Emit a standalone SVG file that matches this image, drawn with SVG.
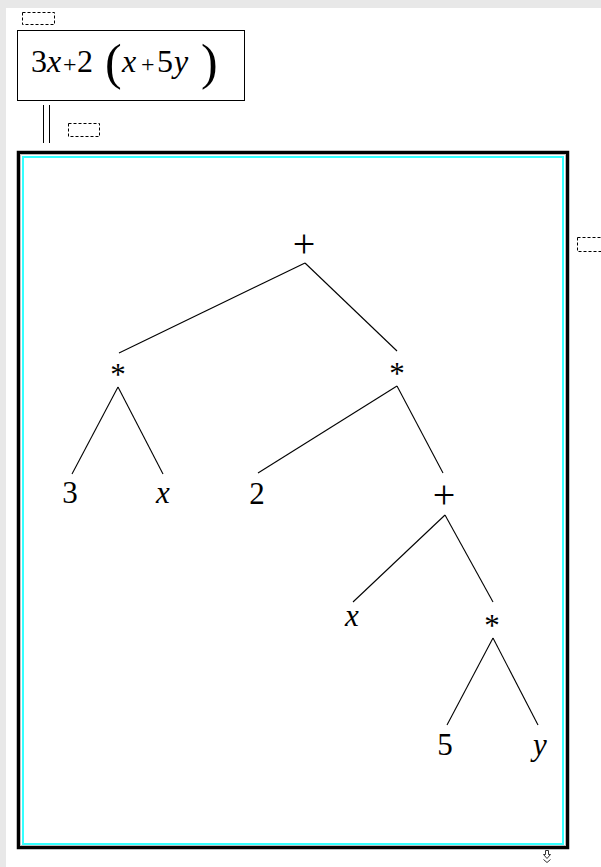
<svg xmlns="http://www.w3.org/2000/svg" width="601" height="867" viewBox="0 0 601 867">
<style>
text{font-family:'Liberation Serif','Times New Roman',serif;fill:#000}
.i{font-style:italic}
.n{font-size:31px;text-anchor:middle}
.op{font-size:40px;text-anchor:middle}
.dash{fill:none;stroke:#000;stroke-width:1;stroke-dasharray:3 2}
.edge{stroke:#000;stroke-width:1.1;fill:none}
</style>
<rect x="0" y="0" width="601" height="867" fill="#e8e8e8"/>
<rect x="6" y="8" width="595" height="859" fill="#fff"/>
<g id="anchor1"><rect class="dash" x="22.5" y="12.5" width="32" height="12"/></g>
<g id="formula">
<rect x="17.5" y="30.5" width="227" height="70" fill="#fff" stroke="#000" stroke-width="1"/>
<text font-size="32" x="31" y="72">3</text>
<text class="i" font-size="32" x="47" y="72">x</text>
<text font-size="24" x="63" y="72">+</text>
<text font-size="32" x="77" y="72">2</text>
<text font-size="50" x="105" y="79">(</text>
<text class="i" font-size="32" x="122" y="72">x</text>
<text font-size="24" x="141" y="72">+</text>
<text font-size="32" x="157" y="72">5</text>
<text class="i" font-size="32" x="174" y="72">y</text>
<text font-size="50" x="201" y="79">)</text>
</g>
<g id="equiv"><line x1="43.5" y1="105" x2="43.5" y2="143" stroke="#000"/><line x1="49.5" y1="105" x2="49.5" y2="143" stroke="#000"/></g>
<g id="anchor2"><rect class="dash" x="68.5" y="123.5" width="31" height="13"/></g>
<g id="anchor3"><rect class="dash" x="577.5" y="237.5" width="30" height="14"/></g>
<g id="frame">
<rect x="18.5" y="152.5" width="549" height="695" fill="#fff" stroke="#000" stroke-width="3.5"/>
<rect x="20.5" y="154.5" width="545" height="691" fill="none" stroke="#bbb" stroke-width="1"/>
<rect x="23" y="157" width="540" height="687" fill="none" stroke="#3ff" stroke-width="2"/>
</g>
<g id="resize"><path d="M545.5 850.5 h3 v4 h2 l-3.5 4 l-3.5 -4 h2 z M543.5 859.5 l3.5 3 l3.5 -3" fill="none" stroke="#333" stroke-width="1"/></g>
<g id="connectors">
<line class="edge" x1="305" y1="263" x2="119" y2="353"/>
<line class="edge" x1="305" y1="263" x2="397" y2="351"/>
<line class="edge" x1="118" y1="387" x2="72" y2="474"/>
<line class="edge" x1="118" y1="387" x2="163" y2="474"/>
<line class="edge" x1="397" y1="386" x2="258" y2="473"/>
<line class="edge" x1="397" y1="386" x2="443" y2="473"/>
<line class="edge" x1="445" y1="515" x2="353" y2="602"/>
<line class="edge" x1="445" y1="515" x2="493" y2="602"/>
<line class="edge" x1="493" y1="638" x2="447" y2="725"/>
<line class="edge" x1="493" y1="638" x2="538" y2="725"/>
</g>
<g id="tree">
<g id="n-plus1"><text class="op" x="304" y="257">+</text></g>
<g id="n-star1"><text class="n" x="118" y="385">*</text></g>
<g id="n-star2"><text class="n" x="397" y="384">*</text></g>
<g id="n-3"><text class="n" x="70" y="503">3</text></g>
<g id="n-x1"><text class="n i" x="163" y="503">x</text></g>
<g id="n-2"><text class="n" x="257" y="504">2</text></g>
<g id="n-plus2"><text class="op" x="444" y="508">+</text></g>
<g id="n-x2"><text class="n i" x="352" y="626">x</text></g>
<g id="n-star3"><text class="n" x="492" y="636">*</text></g>
<g id="n-5"><text class="n" x="445" y="755">5</text></g>
<g id="n-y"><text class="n i" x="540" y="755">y</text></g>
</g>
</svg>
